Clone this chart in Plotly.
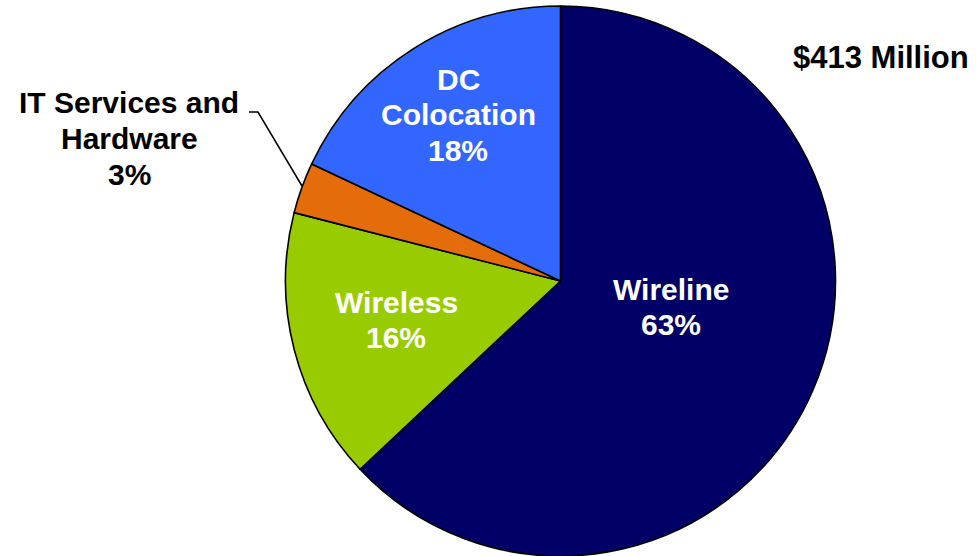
import plotly.graph_objects as go

# Revenue mix by business segment
segments = ["Wireline", "Wireless", "IT Services and Hardware", "DC Colocation"]
label_lines = [["Wireline"], ["Wireless"], ["IT Services and", "Hardware"], ["DC", "Colocation"]]
shares = [63, 16, 3, 18]
total_label = "$413 Million"

colors = ["#000066", "#99CC00", "#E46C0A", "#3366FF"]
text_colors = ["white", "white", "black", "white"]

W, H = 980, 556
FONT = "Liberation Sans, Arial, Helvetica, sans-serif"
FS = 30
LINE = 35.5

# label anchor (pixel centre of the first line) for each segment
label_pos = [(671, 289), (396, 302), (129, 103), (458, 79)]


def px(x, y):
    return x / W, 1 - y / H


fig = go.Figure(
    go.Pie(
        labels=segments,
        values=shares,
        sort=False,
        direction="clockwise",
        rotation=0,
        marker=dict(colors=colors, line=dict(color="black", width=1.6)),
        textinfo="none",
        hoverinfo="label+percent",
        showlegend=False,
        domain=dict(x=[285.5 / W, 835.5 / W], y=[0, 550 / H]),
    )
)

annotations = []
for lines, share, (x0, y0), tc in zip(label_lines, shares, label_pos, text_colors):
    for i, t in enumerate(lines + [f"{share}%"]):
        ax, ay = px(x0, y0 + i * LINE)
        annotations.append(
            dict(
                x=ax, y=ay, xref="paper", yref="paper",
                text=f"<b>{t}</b>", showarrow=False,
                xanchor="center", yanchor="middle",
                font=dict(family=FONT, size=FS, color=tc),
            )
        )

tx, ty = px(881, 57)
annotations.append(
    dict(
        x=tx, y=ty, xref="paper", yref="paper",
        text=f"<b>{total_label}</b>", showarrow=False,
        xanchor="center", yanchor="middle",
        font=dict(family=FONT, size=31, color="black"),
    )
)

# leader line from the small slice to its outside label
leader = [(249, 112), (258, 112), (302, 186)]
path = "M " + " L ".join(f"{px(x, y)[0]},{px(x, y)[1]}" for x, y in leader)

fig.update_layout(
    width=W, height=H,
    margin=dict(l=0, r=0, t=0, b=0),
    paper_bgcolor="white",
    plot_bgcolor="white",
    annotations=annotations,
    shapes=[dict(type="path", path=path, xref="paper", yref="paper",
                 line=dict(color="black", width=1.5))],
)

fig.write_html("out.html")
